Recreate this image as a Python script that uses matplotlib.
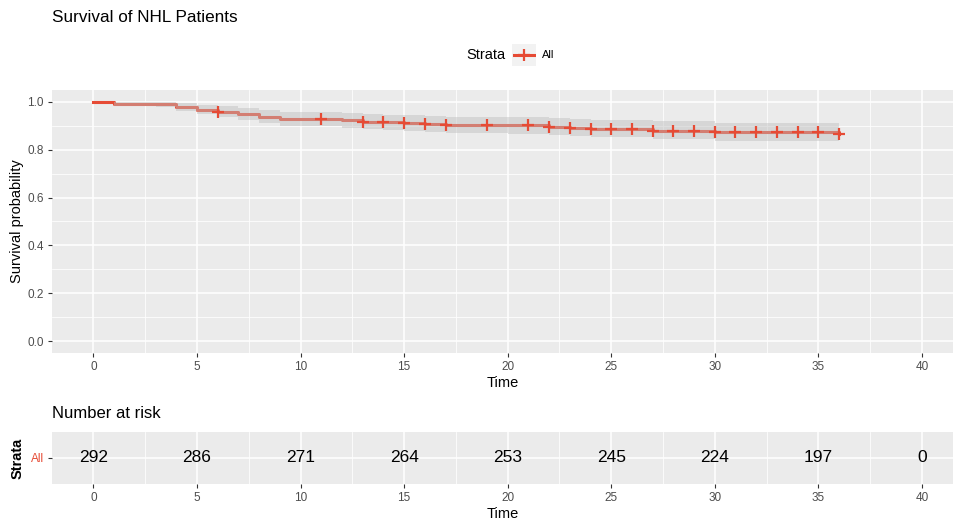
import matplotlib
matplotlib.use("Agg")
import matplotlib.pyplot as plt
import numpy as np

plt.rcParams['font.family'] = ['Liberation Sans', 'DejaVu Sans']

# Kaplan-Meier estimate (step times, survival, 95% CI)
step_times = [0, 1, 3, 4, 5, 6, 7, 8, 9, 12, 13, 14, 15, 16, 17, 20, 22, 23, 24, 27, 30, 36]
surv = [1.000, 0.993, 0.990, 0.980, 0.968, 0.958, 0.950, 0.937, 0.930, 0.923, 0.918,
        0.915, 0.912, 0.908, 0.905, 0.902, 0.896, 0.892, 0.888, 0.880, 0.874, 0.866]
lower = [1.000, 0.984, 0.978, 0.963, 0.948, 0.935, 0.925, 0.910, 0.901, 0.893, 0.887,
         0.884, 0.880, 0.876, 0.872, 0.868, 0.861, 0.857, 0.852, 0.843, 0.836, 0.826]
upper = [1.000, 1.000, 1.000, 0.996, 0.988, 0.981, 0.975, 0.965, 0.960, 0.954, 0.950,
         0.947, 0.945, 0.942, 0.939, 0.937, 0.932, 0.929, 0.926, 0.919, 0.914, 0.908]
censor_times = [6, 11, 13, 14, 15, 16, 17, 19, 21, 22, 23, 24, 25, 26, 27, 28, 29,
                30, 31, 32, 33, 34, 35, 36]

# Number at risk table
risk_times = [0, 5, 10, 15, 20, 25, 30, 35, 40]
risk_counts = [292, 286, 271, 264, 253, 245, 224, 197, 0]

strata_label = "All"
line_col = "#E64B35"
panel_bg = "#EBEBEB"
tick_col = "#4D4D4D"

W, H = 954, 524
fig = plt.figure(figsize=(W / 100, H / 100), dpi=100)

def px_axes(left, top, right, bottom):
    return fig.add_axes([left / W, 1 - bottom / H, (right - left) / W, (bottom - top) / H])

xlim = (-2, 41.55)
xmaj = np.arange(0, 41, 5)
xmin = np.arange(2.5, 41, 5)

def style_panel(ax):
    ax.set_facecolor(panel_bg)
    for s in ax.spines.values():
        s.set_visible(False)
    ax.tick_params(axis='both', colors='#333333', length=3, width=0.8,
                   labelsize=8.5, labelcolor=tick_col, pad=3)

# ---- survival curve panel ----
ax = px_axes(52, 90, 954, 353)
style_panel(ax)
ax.set_xlim(*xlim)
ax.set_ylim(-0.05, 1.05)
ax.set_xticks(xmaj)
ax.set_xticks(xmin, minor=True)
ax.set_yticks(np.arange(0, 1.01, 0.2))
ax.set_yticks(np.arange(0.1, 1.0, 0.2), minor=True)
ax.yaxis.set_major_formatter(matplotlib.ticker.FormatStrFormatter('%.1f'))
ax.tick_params(which='minor', length=0)
ax.grid(which='major', color='white', lw=1.1)
ax.grid(which='minor', color='white', lw=0.55)
ax.set_axisbelow(True)

ax.step(step_times, surv, where='post', color=line_col, lw=2.2, zorder=3)
ax.fill_between(step_times, lower, upper, step='post', color='#BEBEBE', alpha=0.45,
                lw=0, zorder=4)
cens_surv = [surv[np.searchsorted(step_times, t, side='right') - 1] for t in censor_times]
ax.plot(censor_times, cens_surv, ls='none', marker='+', ms=9, mew=1.6,
        color=line_col, zorder=5)

ax.set_xlabel("Time", fontsize=10.5, labelpad=2)
ax.set_ylabel("Survival probability", fontsize=10.5, labelpad=2)

# title and legend
fig.text(52 / W, 1 - 17 / H, "Survival of NHL Patients", fontsize=12.3, va='center', ha='left')
fig.text(466 / W, 1 - 55 / H, "Strata", fontsize=10.5, va='center', ha='left')
kax = px_axes(512, 44, 536, 66)
kax.set_facecolor('#F2F2F2')
kax.set_xticks([]); kax.set_yticks([])
for s in kax.spines.values():
    s.set_visible(False)
kax.set_xlim(0, 1); kax.set_ylim(0, 1)
kax.plot([0.1, 0.9], [0.5, 0.5], color=line_col, lw=2.2)
kax.plot([0.5], [0.5], marker='+', ms=9, mew=1.6, color=line_col)
fig.text(542 / W, 1 - 55 / H, strata_label, fontsize=8, va='center', ha='left')

# ---- number at risk panel ----
rax = px_axes(52, 432, 954, 484)
style_panel(rax)
rax.set_xlim(*xlim)
rax.set_ylim(0.4, 1.6)
rax.set_xticks(xmaj)
rax.set_xticks(xmin, minor=True)
rax.set_yticks([1])
rax.set_yticklabels([strata_label])
rax.get_yticklabels()[0].set_color(line_col)
rax.tick_params(which='minor', length=0)
rax.grid(which='major', color='white', lw=1.1)
rax.grid(which='minor', color='white', lw=0.55)
rax.set_axisbelow(True)
for t, n in zip(risk_times, risk_counts):
    rax.text(t, 1, str(n), ha='center', va='center', fontsize=12.5, color='black')
rax.set_xlabel("Time", fontsize=10.5, labelpad=2)
rax.set_ylabel("Strata", fontsize=10.5, fontweight='bold', labelpad=4)
fig.text(52 / W, 1 - 414 / H, "Number at risk", fontsize=12, va='center', ha='left')

fig.savefig("out.png", dpi=100, facecolor='white')
